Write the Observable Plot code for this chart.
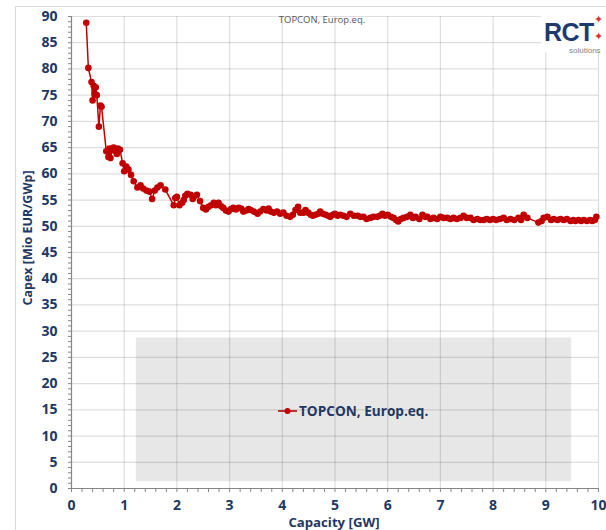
<!DOCTYPE html>
<html>
<head>
<meta charset="utf-8">
<script src="https://cdn.jsdelivr.net/npm/d3@7"></script>
<script src="https://cdn.jsdelivr.net/npm/@observablehq/plot@0.6"></script>
<style>
  html, body { margin: 0; padding: 0; background: #fff; }
  #wrap { position: relative; width: 606px; height: 530px; overflow: hidden; font-family: "Open Sans", "Noto Sans", sans-serif; }
  #frame { position: absolute; left: 15px; top: 6px; width: 620px; height: 560px; border-left: 1px solid #d9d9d9; border-top: 1px solid #d9d9d9; }
  #chart { position: absolute; left: 0; top: 0; }
  .ov { position: absolute; }
</style>
</head>
<body>
<div id="wrap">
  <div id="frame"></div>
  <div id="chart"></div>
</div>
<script>
// ---- data ----
const seriesName = "TOPCON, Europ.eq.";
const chartTitle = "TOPCON, Europ.eq.";
const xLabel = "Capacity [GW]";
const yLabel = "Capex [Mio EUR/GWp]";
const xTicks = [0, 1, 2, 3, 4, 5, 6, 7, 8, 9, 10];
const yTicks = [0, 5, 10, 15, 20, 25, 30, 35, 40, 45, 50, 55, 60, 65, 70, 75, 80, 85, 90];

const capacity = [
  0.28, 0.32, 0.38, 0.40, 0.42, 0.44, 0.46, 0.48, 0.52, 0.55, 0.57,
  0.66, 0.70, 0.72, 0.74, 0.77, 0.80, 0.83, 0.86, 0.88, 0.92, 0.97,
  1.00, 1.04, 1.08, 1.13, 1.18, 1.25, 1.31, 1.36, 1.42, 1.48, 1.53, 1.58, 1.63, 1.69, 1.78,
  1.94, 1.97, 2.00, 2.05, 2.10, 2.13, 2.16, 2.20, 2.26, 2.30, 2.32, 2.38, 2.44, 2.50, 2.55,
  2.60, 2.65, 2.70, 2.74, 2.79, 2.84, 2.88, 2.93, 2.98, 3.03, 3.07, 3.12, 3.17, 3.22, 3.26,
  3.32, 3.36, 3.40, 3.46, 3.53, 3.58, 3.64, 3.70, 3.74, 3.78, 3.84, 3.90, 3.96, 4.02, 4.08,
  4.15, 4.20, 4.25, 4.30, 4.34, 4.40, 4.44, 4.49, 4.54, 4.58, 4.63, 4.68, 4.72, 4.77, 4.82,
  4.87, 4.91, 4.96, 5.00, 5.05, 5.10, 5.16, 5.22, 5.29, 5.36, 5.43, 5.48, 5.54, 5.60, 5.67,
  5.73, 5.80, 5.85, 5.90, 5.95, 6.00, 6.06, 6.11, 6.16, 6.20, 6.25, 6.30, 6.37, 6.43, 6.48,
  6.53, 6.60, 6.66, 6.71, 6.75, 6.81, 6.87, 6.94, 7.00, 7.06, 7.13, 7.19, 7.25, 7.31, 7.38,
  7.44, 7.50, 7.57, 7.63, 7.70, 7.76, 7.82, 7.88, 7.94, 8.00, 8.06, 8.13, 8.20, 8.26, 8.33,
  8.40, 8.48, 8.53, 8.58, 8.65, 8.86, 8.92, 8.96, 9.03, 9.10, 9.15, 9.22, 9.28, 9.34, 9.40,
  9.47, 9.52, 9.56, 9.62, 9.67, 9.72, 9.78, 9.84, 9.88, 9.93, 9.96
];
const capex = [
  88.8, 80.2, 77.5, 74.0, 76.8, 75.2, 76.5, 75.0, 69.0, 73.0, 72.8,
  64.3, 63.2, 64.8, 63.0, 64.5, 65.0, 64.4, 63.8, 64.8, 64.6, 62.0,
  60.5, 61.4, 60.8, 59.8, 58.6, 57.4, 57.8, 57.2, 56.8, 56.6, 55.2, 56.8, 57.4, 57.8, 57.0,
  54.0, 55.4, 55.6, 54.0, 54.5, 55.0, 55.8, 56.2, 56.0, 55.2, 55.6, 56.0, 54.8, 53.5, 53.2,
  53.7, 54.0, 54.5, 54.0, 54.5, 53.8, 53.5, 53.0, 52.8, 53.3, 53.5, 53.2, 53.5, 53.4, 52.8,
  53.0, 53.3, 53.1, 52.8, 52.4, 52.8, 53.3, 53.0, 53.4, 52.8, 52.6, 52.8, 52.4, 52.6, 52.0,
  51.8, 52.2, 53.1, 53.7, 52.6, 52.6, 53.1, 52.6, 52.2, 52.0, 52.2, 52.4, 52.8, 52.4, 52.2,
  52.0, 51.8, 52.2, 52.4, 52.0, 52.2, 52.0, 51.8, 52.4, 52.0, 52.0, 51.8, 51.8, 51.4, 51.6,
  51.8, 51.8, 52.0, 52.4, 52.0, 52.2, 51.8, 51.6, 51.2, 50.9, 51.4, 51.6, 51.8, 52.2, 51.6,
  51.8, 51.4, 52.2, 51.8, 51.8, 51.4, 51.6, 51.4, 51.8, 51.6, 51.6, 51.4, 51.6, 51.4, 51.6,
  52.0, 51.6, 51.6, 51.2, 51.4, 51.2, 51.2, 51.4, 51.2, 51.4, 51.2, 51.4, 51.6, 51.2, 51.4,
  51.2, 51.6, 51.2, 52.2, 51.6, 50.7, 51.0, 51.6, 51.8, 51.2, 51.4, 51.2, 51.4, 51.2, 51.4,
  51.0, 51.2, 51.0, 51.2, 51.0, 51.2, 51.0, 51.2, 51.0, 51.2, 51.8
];

const points = capacity.map((x, i) => ({x, y: capex[i]}));

const navy = "#1f3864";
const red = "#c00000";
const axisColor = "#868686";

const chart = Plot.plot({
  width: 606,
  height: 530,
  marginLeft: 71,
  marginRight: 8,
  marginTop: 16,
  marginBottom: 42,
  style: { background: "transparent", fontFamily: "'Open Sans', sans-serif", overflow: "visible" },
  x: { domain: [0, 10] },
  y: { domain: [0, 90] },
  marks: [
    // legend background box
    Plot.rect([0], { x1: 1.23, x2: 9.49, y1: 1.3, y2: 28.7, fill: "#e7e7e7" }),
    Plot.gridX(xTicks.slice(1), { stroke: "#000", strokeOpacity: 0.13, strokeWidth: 1.2 }),
    Plot.gridY(yTicks.slice(1), { stroke: "#000", strokeOpacity: 0.13, strokeWidth: 1.2 }),
    // minor ticks
    Plot.axisX(d3.range(0, 51).map(i => i / 5), { tickSize: 4, tickFormat: () => "", stroke: axisColor, label: null }),
    Plot.axisY(d3.range(0, 91), { tickSize: 3, tickFormat: () => "", stroke: axisColor, label: null }),
    // labelled ticks
    Plot.axisX(xTicks, { tickSize: 0, tickPadding: 12, fontSize: 14, fontWeight: "bold", fill: navy, label: null }),
    Plot.axisY(yTicks, { tickSize: 0, tickPadding: 14, fontSize: 14, fontWeight: "bold", fill: navy, label: null }),
    Plot.ruleY([0], { stroke: axisColor, strokeWidth: 1.2 }),
    Plot.ruleX([0], { stroke: axisColor, strokeWidth: 1.2 }),
    // series
    Plot.line(points, { x: "x", y: "y", stroke: red, strokeWidth: 1.5 }),
    Plot.dot(points, { x: "x", y: "y", r: 3.3, fill: red, stroke: "none" })
  ]
});
document.getElementById("chart").appendChild(chart);

const wrap = document.getElementById("wrap");
function add(html, style) {
  const d = document.createElement("div");
  d.className = "ov";
  d.innerHTML = html;
  Object.assign(d.style, style);
  wrap.appendChild(d);
  return d;
}
// chart title
add(chartTitle, { left: "222px", width: "200px", top: "13px", textAlign: "center", fontSize: "9.5px", color: "#595959", fontFamily: "'Open Sans', sans-serif" });
// axis titles
add(xLabel, { left: "234px", width: "200px", top: "513px", textAlign: "center", fontSize: "13.2px", fontWeight: "bold", color: navy });
add(yLabel, { left: "-72px", width: "200px", top: "229px", textAlign: "center", fontSize: "12.5px", fontWeight: "bold", color: navy, transform: "rotate(-90deg)", lineHeight: "18px" });
// legend
add(`<svg width="20" height="10" style="vertical-align:middle"><line x1="0" y1="5" x2="19" y2="5" stroke="${red}" stroke-width="1.6"/><circle cx="9.5" cy="5" r="3" fill="${red}"/></svg><span style="margin-left:1px;vertical-align:middle">${seriesName}</span>`,
  { left: "278px", top: "400px", fontSize: "13.6px", fontWeight: "bold", color: navy, whiteSpace: "nowrap", lineHeight: "20px" });
// logo
add(`<div style="position:absolute;left:3px;top:12px;font-family:'Liberation Sans',Arial,sans-serif;font-weight:bold;font-size:25px;color:#1f3a6e;letter-spacing:-0.5px;line-height:25px">RCT</div>
<div style="position:absolute;left:53px;top:5px;color:#e0302a;font-size:11px;line-height:11px">&#10022;</div>
<div style="position:absolute;left:53px;top:22px;color:#e0302a;font-size:11px;line-height:11px">&#10022;</div>
<div style="position:absolute;left:28px;top:38px;color:#7f7f7f;font-size:8px;line-height:9px;font-family:'Liberation Sans',Arial,sans-serif">solutions</div>`,
  { left: "541px", top: "8px", width: "65px", height: "44px", background: "#fff" });
</script>
</body>
</html>
